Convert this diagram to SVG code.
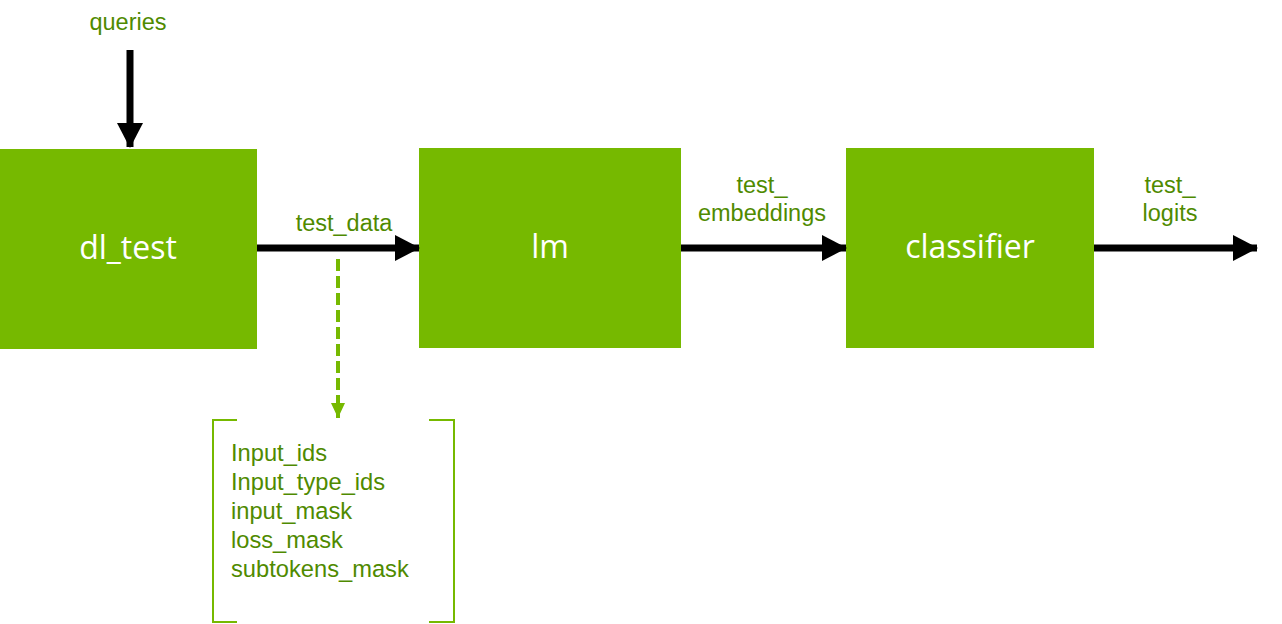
<svg xmlns="http://www.w3.org/2000/svg" width="1282" height="624" viewBox="0 0 1282 624">
<style>
.box{fill:#76b900}
.bt{font-family:"Open Sans","DejaVu Sans",sans-serif;font-size:32px;fill:#fff;text-anchor:middle}
.lbl{font-family:"Liberation Sans",Arial,sans-serif;font-size:23.5px;fill:#4f8a00;text-anchor:middle}
.lst{font-family:"Liberation Sans",Arial,sans-serif;font-size:23.7px;fill:#4f8a00}
.arr{stroke:#000;stroke-width:7;fill:none}
.dash{stroke:#76b900;stroke-width:4;stroke-dasharray:12 5;fill:none}
.brk{stroke:#76b900;stroke-width:2;fill:none}
</style>
<defs>
<marker id="ah" markerUnits="userSpaceOnUse" markerWidth="25" markerHeight="26" refX="24" refY="13" orient="auto">
<path d="M0,0 L25,13 L0,26 Z" fill="#000"/>
</marker>
<marker id="gh" markerUnits="userSpaceOnUse" markerWidth="16" markerHeight="16" refX="15" refY="8" orient="auto">
<path d="M0,1 L15,8 L0,15 Z" fill="#76b900"/>
</marker>
</defs>
<g id="node-dl_test"><rect class="box" x="0" y="149" width="257" height="200"/><text class="bt" x="128" y="259">dl_test</text></g>
<g id="node-lm"><rect class="box" x="419" y="148" width="262" height="200"/><text class="bt" x="550" y="258">lm</text></g>
<g id="node-classifier"><rect class="box" x="846" y="148" width="248" height="200"/><text class="bt" x="970" y="258">classifier</text></g>
<g id="node-list">
<path class="brk" d="M237,420 H213 V622 H237"/>
<path class="brk" d="M429,420 H454 V622 H429"/>
<text class="lst" x="231" y="461">Input_ids</text>
<text class="lst" x="231" y="490">Input_type_ids</text>
<text class="lst" x="231" y="519">input_mask</text>
<text class="lst" x="231" y="548">loss_mask</text>
<text class="lst" x="231" y="577">subtokens_mask</text>
</g>
<g id="connectors">
<line class="arr" x1="130" y1="50" x2="130" y2="147" marker-end="url(#ah)"/>
<line class="arr" x1="257" y1="248" x2="419" y2="248" marker-end="url(#ah)"/>
<line class="arr" x1="681" y1="248" x2="846" y2="248" marker-end="url(#ah)"/>
<line class="arr" x1="1094" y1="248" x2="1257" y2="248" marker-end="url(#ah)"/>
<line class="dash" x1="338" y1="259" x2="338" y2="418" marker-end="url(#gh)"/>
</g>
<g id="labels">
<text class="lbl" x="128" y="30">queries</text>
<text class="lbl" x="344" y="231">test_data</text>
<text class="lbl" x="762" y="193">test_</text>
<text class="lbl" x="762" y="221">embeddings</text>
<text class="lbl" x="1170" y="193">test_</text>
<text class="lbl" x="1170" y="221">logits</text>
</g>
</svg>
